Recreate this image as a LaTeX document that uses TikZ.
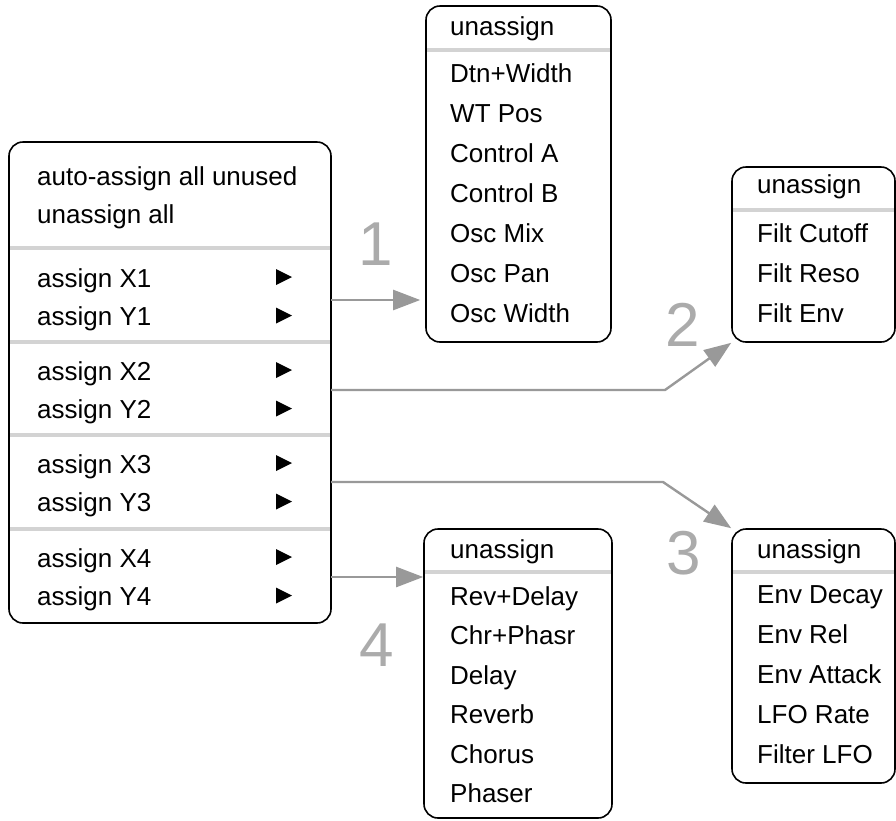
\documentclass[tikz,border=0pt]{standalone}
\usepackage{fontspec}
\setmainfont{Liberation Sans}
\usetikzlibrary{arrows.meta}
\definecolor{sepgray}{HTML}{D3D3D3}
\definecolor{linkgray}{HTML}{999999}
\definecolor{numgray}{HTML}{ABABAB}
\tikzset{
  menubox/.style={draw,line width=1.6pt,rounded corners=14pt,inner sep=0pt},
  entry/.style={anchor=base west,inner sep=0pt,font=\fontsize{26}{30}\selectfont},
  sepline/.style={draw=sepgray,line width=4pt},
  link/.style={draw=linkgray,line width=2.4pt,->},
  num/.style={text=numgray,font=\fontsize{62}{62}\selectfont,inner sep=0pt}
}
\begin{document}
\begin{tikzpicture}[x=1pt,y=-1pt,line join=round,>={Triangle[length=27pt,width=20pt]}]
\useasboundingbox (0,0) rectangle (896,820);
% separators under the boxes
\foreach \y in {248,342,435,529}
  \draw[sepline] (9,\y)--(331,\y);
\draw[sepline] (426,50)--(611,50);
\draw[sepline] (732,210)--(896,210);
\draw[sepline] (732,572)--(896,572);
\draw[sepline] (424,572)--(612,572);
% menus
\node[menubox,minimum width=322pt,minimum height=481pt] (main) at (170,382.5) {};
\node[menubox,minimum width=185pt,minimum height=336pt] (osc) at (518.5,174) {};
\node[menubox,minimum width=163pt,minimum height=175pt] (filt) at (813.5,254.5) {};
\node[menubox,minimum width=163pt,minimum height=254pt] (env) at (813.5,656) {};
\node[menubox,minimum width=188pt,minimum height=289pt] (fx) at (518,673.5) {};
% main menu
\node[entry] (auto) at (37,185) {auto-assign all unused};
\node[entry] (unall) at (37,223) {unassign all};
\foreach \n/\y in {1/287,2/380,3/473,4/567}{
  \node[entry] (x\n) at (37,\y) {assign X\n};
  \node[entry] (y\n) at (37,\y+38.5) {assign Y\n};
  \fill (276,\y-18) -- (292,\y-10) -- (276,\y-2) -- cycle;
  \fill (276,\y+20.5) -- (292,\y+28.5) -- (276,\y+36.5) -- cycle;
}
% sub menus
\node[entry] (oscun) at (450,35) {unassign};
\foreach \t [count=\i] in {Dtn+Width,WT Pos,Control A,Control B,Osc Mix,Osc Pan,Osc Width}
  \node[entry] (osc\i) at (450,42+40*\i) {\t};
\node[entry] (filtun) at (757,193) {unassign};
\foreach \t [count=\i] in {Filt Cutoff,Filt Reso,Filt Env}
  \node[entry] (filt\i) at (757,202+40*\i) {\t};
\node[entry] (envun) at (757,558) {unassign};
\foreach \t [count=\i] in {Env Decay,Env Rel,Env Attack,LFO Rate,Filter LFO}
  \node[entry] (env\i) at (757,563.5+40*\i) {\t};
\node[entry] (fxun) at (450,558) {unassign};
\foreach \t [count=\i] in {Rev+Delay,Chr+Phasr,Delay,Reverb,Chorus,Phaser}
  \node[entry] (fx\i) at (450,565.5+39.5*\i) {\t};
% links
\coordinate (o1) at (331,300);
\coordinate (o2) at (331,390);
\coordinate (o3) at (331,482);
\coordinate (o4) at (331,577);
\coordinate (b2) at (665,390);
\coordinate (b3) at (663,482);
\draw[link,shorten >=5pt] (o1) -- (o1 -| osc.west);
\draw[link] (o2) -- (b2) -- (filt.south west);
\draw[link] (o3) -- (b3) -- (env.north west);
\draw[link] (o4) -- (o4 -| fx.west);
\node[num] (n1) at (376,244) {1};
\node[num] (n2) at (683,325) {2};
\node[num] (n3) at (684,553) {3};
\node[num] (n4) at (377,645) {4};
\end{tikzpicture}
\end{document}
